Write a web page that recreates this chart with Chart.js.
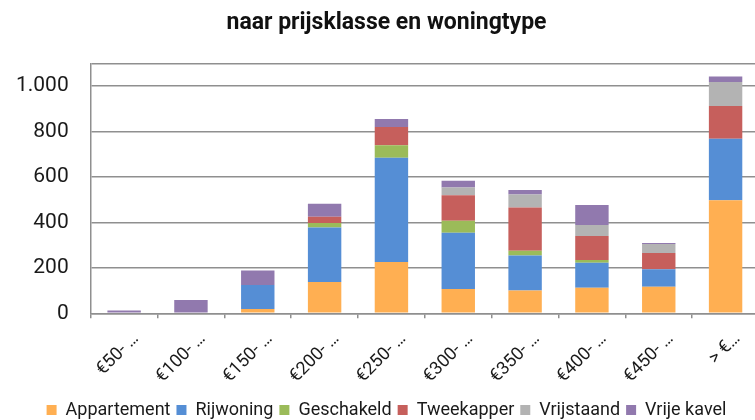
<!DOCTYPE html>
<html>
<head>
<meta charset="utf-8">
<script src="https://cdn.jsdelivr.net/npm/chart.js@4"></script>
<style>
html,body{margin:0;padding:0;background:#fff;overflow:hidden;}
canvas{display:block;}
</style>
</head>
<body>
<canvas id="c" width="780" height="420"></canvas>
<script>
const titleText = 'naar prijsklasse en woningtype';
const categories = ['€50- …','€100- …','€150- …','€200- …','€250- …','€300- …','€350- …','€400- …','€450- …','> €…'];
const appartement = [0, 0, 19, 138, 226, 107, 100, 112, 117, 497];
const rijwoning   = [0, 0, 105, 240, 458, 247, 154, 110, 77, 271];
const geschakeld  = [0, 0, 0, 19, 55, 53, 21, 13, 0, 0];
const tweekapper  = [0, 0, 0, 28, 81, 112, 191, 105, 71, 144];
const vrijstaand  = [0, 0, 0, 0, 0, 34, 57, 48, 40, 106];
const vrijeKavel  = [12, 59, 64, 57, 35, 30, 20, 89, 4, 24];
const seriesNames = ['Appartement','Rijwoning','Geschakeld','Tweekapper','Vrijstaand','Vrije kavel'];
const seriesColors = ['#FFAF52','#558ED5','#9BBB59','#C65F5C','#B3B3B3','#9179AE'];
const yTicks = [0, 200, 400, 600, 800, 1000, 1100];
const yLabelled = [0, 200, 400, 600, 800, 1000];

const seriesData = [appartement, rijwoning, geschakeld, tweekapper, vrijstaand, vrijeKavel];
const fmt = v => String(v).replace(/\B(?=(\d{3})+(?!\d))/g, '.');

new Chart(document.getElementById('c'), {
  type: 'bar',
  data: {
    labels: categories,
    datasets: seriesNames.map((n, i) => ({
      label: n,
      data: seriesData[i],
      backgroundColor: seriesColors[i],
      borderWidth: 0,
      categoryPercentage: 1,
      barPercentage: 0.5
    }))
  },
  options: {
    responsive: false,
    animation: false,
    devicePixelRatio: 1,
    layout: { padding: { left: 14, right: 21, top: 0, bottom: -9 } },
    plugins: {
      title: {
        display: true,
        text: titleText,
        color: '#111',
        font: { family: 'Roboto', size: 23, weight: 'bold' },
        padding: { top: 9, bottom: 26.7 }
      },
      legend: {
        position: 'bottom',
        labels: {
          color: '#1a1a1a',
          font: { family: 'Roboto', size: 18 },
          boxWidth: 10,
          boxHeight: 10,
          padding: 6
        }
      },
      tooltip: { enabled: false }
    },
    scales: {
      x: {
        stacked: true,
        grid: { display: true, drawOnChartArea: false, drawTicks: true, tickLength: 5, color: '#8f8f8f', lineWidth: 1.5, offset: true },
        border: { display: true, color: '#8f8f8f', width: 1.5 },
        ticks: {
          color: '#1a1a1a',
          font: { family: 'Roboto', size: 18 },
          minRotation: 45,
          maxRotation: 45,
          autoSkip: false,
          padding: 10,
          labelOffset: 12
        },
        afterFit: s => { s.height = 81.7; }
      },
      y: {
        stacked: true,
        min: 0,
        max: 1100,
        grid: { color: '#8f8f8f', lineWidth: 1.5, drawTicks: false },
        border: { display: true, color: '#8f8f8f', width: 1.5 },
        afterBuildTicks: s => { s.ticks = yTicks.map(v => ({ value: v })); },
        afterFit: s => { s.width = 76.7; },
        ticks: {
          color: '#1a1a1a',
          font: { family: 'Roboto', size: 21 },
          padding: 22,
          callback: v => yLabelled.includes(v) ? fmt(v) : ''
        }
      }
    }
  }
});
</script>
</body>
</html>
